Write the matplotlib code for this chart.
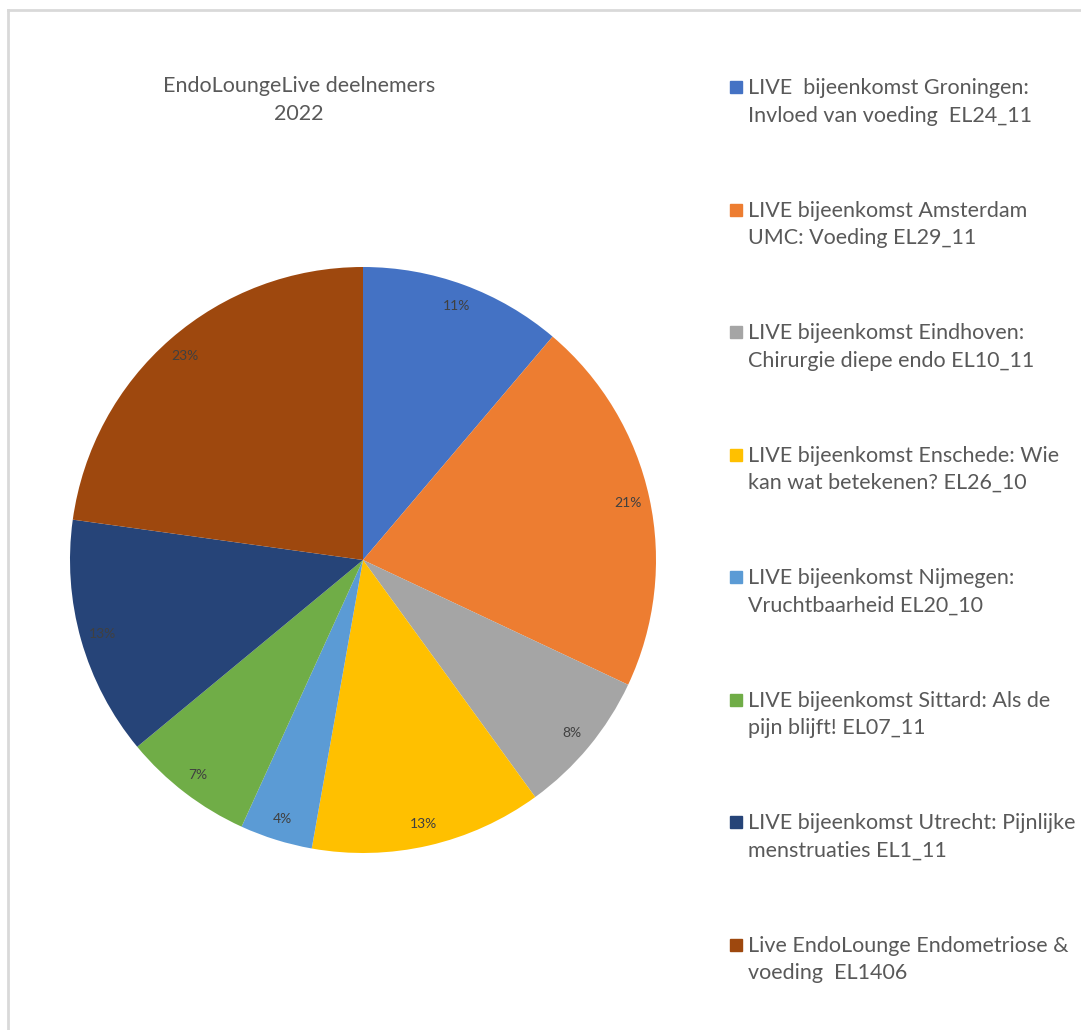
import matplotlib.pyplot as plt
from matplotlib.patches import Rectangle
from matplotlib.lines import Line2D

plt.rcParams['font.family'] = ['Lato', 'DejaVu Sans']

labels = [
    'LIVE  bijeenkomst Groningen:\nInvloed van voeding  EL24_11',
    'LIVE bijeenkomst Amsterdam\nUMC: Voeding EL29_11',
    'LIVE bijeenkomst Eindhoven:\nChirurgie diepe endo EL10_11',
    'LIVE bijeenkomst Enschede: Wie\nkan wat betekenen? EL26_10',
    'LIVE bijeenkomst Nijmegen:\nVruchtbaarheid EL20_10',
    'LIVE bijeenkomst Sittard: Als de\npijn blijft! EL07_11',
    'LIVE bijeenkomst Utrecht: Pijnlijke\nmenstruaties EL1_11',
    'Live EndoLounge Endometriose &\nvoeding  EL1406',
]
deelnemers = [28, 52, 20, 32, 10, 18, 33, 57]
colors = ['#4472C4', '#ED7D31', '#A5A5A5', '#FFC000',
          '#5B9BD5', '#70AD47', '#264478', '#9E480E']

W, H = 1081, 1030
fig = plt.figure(figsize=(W / 100, H / 100), dpi=100)

# pie: centre (363, 560) px, radius 293 px
cx, cy, r = 363, 560, 293
ax = fig.add_axes([(cx - r) / W, (H - cy - r) / H, 2 * r / W, 2 * r / H])
ax.pie(deelnemers, colors=colors, startangle=90, counterclock=False,
       autopct='%1.0f%%', pctdistance=0.925, radius=1,
       textprops={'fontsize': 10, 'color': '#404040'},
       wedgeprops={'linewidth': 0})
ax.set_xlim(-1, 1)
ax.set_ylim(-1, 1)
ax.set_aspect('equal')
ax.axis('off')

fig.text(299 / W, 1 - 100 / H, 'EndoLoungeLive deelnemers\n2022',
         ha='center', va='center', fontsize=15.5, color='#595959',
         linespacing=1.5)

# legend
for i, (lab, col) in enumerate(zip(labels, colors)):
    y = 87 + i * 122.5
    fig.patches.append(Rectangle((730 / W, 1 - (y + 6) / H), 12 / W, 12 / H,
                                 transform=fig.transFigure, color=col))
    fig.text(748 / W, 1 - (y + 15) / H, lab, ha='left', va='center',
             fontsize=15.5, color='#595959', linespacing=1.45)

# light frame lines at top and left
fig.add_artist(Line2D([8 / W, 1], [1 - 10 / H, 1 - 10 / H],
                      transform=fig.transFigure, color='#d9d9d9', lw=2))
fig.add_artist(Line2D([8 / W, 8 / W], [0, 1 - 10 / H],
                      transform=fig.transFigure, color='#d9d9d9', lw=2))

fig.savefig('out.png', dpi=100)
